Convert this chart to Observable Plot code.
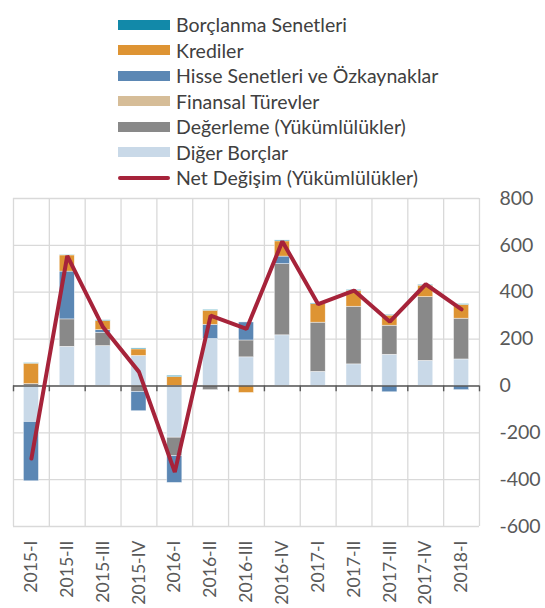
<!DOCTYPE html>
<html>
<head>
<meta charset="utf-8">
<script src="https://cdn.jsdelivr.net/npm/d3@7"></script>
<script src="https://cdn.jsdelivr.net/npm/@observablehq/plot@0.6"></script>
<style>
  body { margin: 0; background: #fff; font-family: Lato, "Open Sans", sans-serif; }
  #wrap { position: relative; width: 545px; height: 608px; overflow: hidden; }
  #legend { position: absolute; left: 118px; top: 12px; }
  .row { display: flex; align-items: center; height: 25.5px; }
  .sw { width: 52px; height: 10px; margin-right: 6px; }
  .ln { width: 52px; height: 4px; margin-right: 6px; border-radius: 2px; }
  .lab { font-size: 19.5px; color: #404040; white-space: nowrap; }
  #chart { position: absolute; left: 0; top: 180px; }
</style>
</head>
<body>
<div id="wrap">
  <div id="legend"></div>
  <div id="chart"></div>
</div>
<script>
const categories = ["2015-I","2015-II","2015-III","2015-IV","2016-I","2016-II","2016-III","2016-IV","2017-I","2017-II","2017-III","2017-IV","2018-I"];
const borclanma = [2, 2, 3, 4, 5, 3, 0, 4, 3, 3, 3, 3, 3];
const krediler  = [87, 69, 39, 28, 38, 60, -30, 65, 79, 68, 43, 49, 59];
const hisse     = [-253, 204, 11, -82, -114, 61, 77, 32, 0, 0, -27, 0, -18];
const finansal  = [0, 0, 0, 0, 0, 0, 0, 0, 0, 0, 0, 0, 0];
const degerleme = [8, 117, 57, -26, -79, -18, 72, 304, 210, 246, 124, 272, 174];
const diger     = [-154, 167, 170, 128, -221, 200, 122, 216, 60, 92, 133, 107, 113];
const net       = [-310, 555, 250, 60, -368, 300, 243, 617, 349, 407, 274, 434, 327];
const yTicks = [-600, -400, -200, 0, 200, 400, 600, 800];

const seriesNames = ["Borçlanma Senetleri","Krediler","Hisse Senetleri ve Özkaynaklar","Finansal Türevler","Değerleme (Yükümlülükler)","Diğer Borçlar"];
const seriesColors = ["#1289a9","#de9433","#5b87b4","#d6bd98","#898989","#c9d9e8"];
const lineName = "Net Değişim (Yükümlülükler)";
const lineColor = "#a6233a";

// stacking order from zero outward
const stackOrder = [
  [seriesNames[5], diger, seriesColors[5]],
  [seriesNames[4], degerleme, seriesColors[4]],
  [seriesNames[3], finansal, seriesColors[3]],
  [seriesNames[2], hisse, seriesColors[2]],
  [seriesNames[1], krediler, seriesColors[1]],
  [seriesNames[0], borclanma, seriesColors[0]]
];
const rows = [];
stackOrder.forEach(([name, vals]) => vals.forEach((v, i) => rows.push({i, name, value: v})));
const lineData = net.map((v, i) => ({i, value: v}));
const bounds = d3.range(categories.length + 1).map(k => k - 0.5);
const halfW = 0.21;

// legend
const leg = document.getElementById("legend");
seriesNames.forEach((n, k) => {
  leg.insertAdjacentHTML("beforeend", `<div class="row"><div class="sw" style="background:${seriesColors[k]}"></div><span class="lab">${n}</span></div>`);
});
leg.insertAdjacentHTML("beforeend", `<div class="row"><div class="ln" style="background:${lineColor}"></div><span class="lab">${lineName}</span></div>`);

const chart = Plot.plot({
  width: 545,
  height: 428,
  marginTop: 18,
  marginBottom: 82,
  marginLeft: 13,
  marginRight: 66,
  style: {fontFamily: "Lato, 'Open Sans', sans-serif", fontSize: "19px", color: "#595959", background: "transparent", overflow: "visible"},
  x: {type: "linear", domain: [-0.5, categories.length - 0.5]},
  y: {domain: [-600, 800]},
  color: {domain: stackOrder.map(d => d[0]), range: stackOrder.map(d => d[2])},
  marks: [
    Plot.ruleY(yTicks, {stroke: "#d9d9d9", strokeWidth: 1.3}),
    Plot.ruleX(bounds, {stroke: "#d9d9d9", strokeWidth: 1.3}),
    Plot.rectY(rows.filter(d => d.value !== 0), Plot.stackY({
      x1: d => d.i - halfW, x2: d => d.i + halfW, y: "value", z: "name", fill: "name",
      stroke: "#ffffff", strokeWidth: 0.6, strokeOpacity: 0.7
    })),
    Plot.ruleY([0], {stroke: "#595959", strokeWidth: 1.4}),
    Plot.ruleX(bounds, {y1: 0, y2: -25, stroke: "#595959", strokeWidth: 1.4}),
    Plot.line(lineData, {x: "i", y: "value", stroke: lineColor, strokeWidth: 4, strokeLinejoin: "miter"}),
    Plot.axisY(yTicks, {anchor: "right", label: null, tickSize: 0, tickPadding: 20, tickFormat: d => String(d), fill: "#595959", fontSize: 19.5}),
    Plot.axisX(d3.range(categories.length), {anchor: "bottom", label: null, tickSize: 0, tickPadding: 14, tickRotate: -90, tickFormat: i => categories[i], fill: "#595959", fontSize: 17.6})
  ]
});
document.getElementById("chart").appendChild(chart);
</script>
</body>
</html>
